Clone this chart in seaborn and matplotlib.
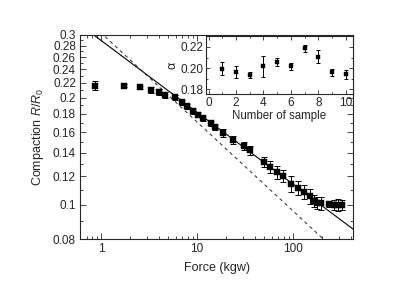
import numpy as np
import pandas as pd
import matplotlib
matplotlib.use("Agg")
import matplotlib.pyplot as plt
import seaborn as sns
from matplotlib.ticker import FixedLocator, NullFormatter, FormatStrFormatter, MultipleLocator

# main data: compaction vs force
force = [0.85, 1.72, 2.52, 3.26, 3.98, 4.64, 5.94, 7.03, 7.92, 9.0, 10.1, 11.4,
         13.8, 15.5, 18.5, 23.7, 30.6, 35.9, 49.4, 58, 68, 78, 95, 113, 129,
         149, 167, 180, 197, 235, 265, 294, 324]
compaction = [0.216, 0.216, 0.2137, 0.210, 0.2078, 0.2036, 0.2001, 0.1942, 0.189,
              0.183, 0.1789, 0.1748, 0.1692, 0.1649, 0.1594, 0.1523, 0.1462, 0.142,
              0.1317, 0.1275, 0.1233, 0.1205, 0.1146, 0.1114, 0.1086, 0.1056,
              0.1025, 0.1011, 0.1007, 0.1002, 0.0998, 0.0998, 0.0998]
comp_err = [0.006, 0.002, 0.002, 0.004, 0.004, 0.004, 0.003, 0.003, 0.003,
            0.003, 0.003, 0.003, 0.003, 0.003, 0.004, 0.004, 0.004, 0.004,
            0.004, 0.005, 0.005, 0.005, 0.006, 0.005, 0.005, 0.005,
            0.004, 0.004, 0.004, 0.002, 0.003, 0.004, 0.003]

# power-law fits R = A * F^-alpha
fit_solid = (0.2892, 0.2018)
fit_dashed = (0.3035, 0.25)
fit_range = [0.6, 425]

# inset: alpha per sample
sample = [1, 2, 3, 4, 5, 6, 7, 8, 9, 10]
alpha = [0.1994, 0.1963, 0.1937, 0.2016, 0.206, 0.2016, 0.2186, 0.211, 0.1959, 0.194]
alpha_err = [0.006, 0.006, 0.003, 0.010, 0.004, 0.003, 0.003, 0.006, 0.003, 0.004]

sns.set_style("ticks")
plt.rcParams["font.family"] = ["Liberation Sans", "DejaVu Sans"]
plt.rcParams["font.size"] = 8.5
plt.rcParams["mathtext.fontset"] = "custom"
plt.rcParams["mathtext.it"] = "Liberation Sans:italic"
plt.rcParams["mathtext.rm"] = "Liberation Sans"

fig = plt.figure(figsize=(4.15, 2.94), dpi=100)
ax = fig.add_axes([0.193, 0.187, 0.658, 0.694])


def draw_errors(axis, x, y, err, cap):
    _, caps, bars = axis.errorbar(x, y, yerr=err, fmt="none", ecolor="black",
                                  elinewidth=0.7, capsize=cap, capthick=0.7)
    for c in caps:
        c.set_color("0.6")


df = pd.DataFrame({"force": force, "compaction": compaction})
draw_errors(ax, force, compaction, comp_err, 2.2)
sns.scatterplot(data=df, x="force", y="compaction", marker="s", s=14,
                color="black", edgecolor="black", ax=ax, zorder=3)

fr = np.array(fit_range)
sns.lineplot(x=fr, y=fit_solid[0] * fr ** (-fit_solid[1]), color="black",
             lw=0.8, ax=ax)
sns.lineplot(x=fr, y=fit_dashed[0] * fr ** (-fit_dashed[1]), color="0.15",
             lw=0.7, ls=(0, (3.5, 3.5)), ax=ax)

ax.set_xscale("log")
ax.set_yscale("log")
ax.set_xlim(0.6, 425)
ax.set_ylim(0.08, 0.3)
ax.set_xticks([1, 10, 100])
ax.set_xticklabels(["1", "10", "100"])
yt = [0.08, 0.1, 0.12, 0.14, 0.16, 0.18, 0.2, 0.22, 0.24, 0.26, 0.28, 0.3]
ax.yaxis.set_major_locator(FixedLocator(yt))
ax.set_yticklabels(["0.08", "0.1", "0.12", "0.14", "0.16", "0.18", "0.2",
                    "0.22", "0.24", "0.26", "0.28", "0.3"])
ax.yaxis.set_minor_locator(FixedLocator([0.09, 0.11, 0.13, 0.15, 0.17, 0.19,
                                         0.21, 0.23, 0.25, 0.27, 0.29]))
ax.yaxis.set_minor_formatter(NullFormatter())
ax.tick_params(which="both", direction="in", top=True, right=True, width=0.6)
ax.tick_params(which="major", length=4, pad=3)
ax.tick_params(which="minor", length=2)
for s in ax.spines.values():
    s.set_linewidth(0.8)
ax.set_xlabel("Force (kgw)", fontsize=9, labelpad=5)
ax.set_ylabel("Compaction $\\it{R/R_0}$", fontsize=9, labelpad=5)

# inset
ins = fig.add_axes([0.496, 0.680, 0.3535, 0.198])
draw_errors(ins, sample, alpha, alpha_err, 1.6)
sns.scatterplot(x=sample, y=alpha, marker="s", s=11, color="black",
                edgecolor="black", ax=ins, zorder=3)
ins.set_xlim(-0.2, 10.5)
ins.set_ylim(0.1755, 0.2305)
ins.xaxis.set_major_locator(MultipleLocator(2))
ins.xaxis.set_minor_locator(MultipleLocator(1))
ins.yaxis.set_major_locator(FixedLocator([0.18, 0.20, 0.22]))
ins.yaxis.set_minor_locator(FixedLocator([0.19, 0.21, 0.23]))
ins.yaxis.set_major_formatter(FormatStrFormatter("%.2f"))
ins.tick_params(which="both", direction="in", top=True, right=True, width=0.6)
ins.tick_params(which="major", length=3, pad=2)
ins.tick_params(which="minor", length=1.5)
for s in ins.spines.values():
    s.set_linewidth(0.8)
ins.set_xlabel("Number of sample", fontsize=8.3, labelpad=1)
ins.set_ylabel("\u03b1", fontsize=9, labelpad=1)

fig.savefig("out.png", dpi=100)
